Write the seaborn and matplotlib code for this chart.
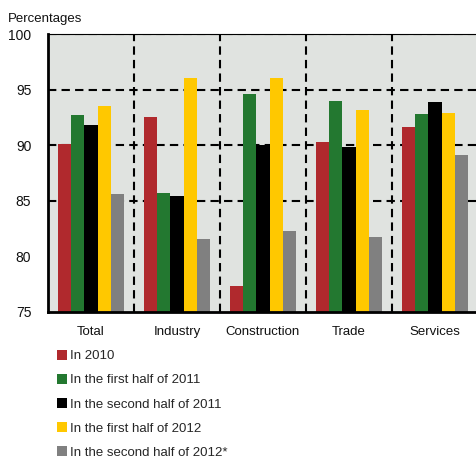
import matplotlib
matplotlib.use("Agg")
import matplotlib.pyplot as plt
from matplotlib.patches import Patch
import seaborn as sns
import pandas as pd

categories = ["Total", "Industry", "Construction", "Trade", "Services"]
series_names = [
    "In 2010",
    "In the first half of 2011",
    "In the second half of 2011",
    "In the first half of 2012",
    "In the second half of 2012*",
]
in_2010 = [90.1, 92.5, 77.3, 90.3, 91.6]
h1_2011 = [92.7, 85.7, 94.6, 94.0, 92.8]
h2_2011 = [91.8, 85.4, 90.0, 89.8, 93.9]
h1_2012 = [93.5, 96.0, 96.0, 93.2, 92.9]
h2_2012 = [85.6, 81.5, 82.3, 81.7, 89.1]
y_ticks = [75, 80, 85, 90, 95, 100]

colors = ["#B0292D", "#237830", "#000000", "#FFC800", "#808080"]

rows = []
for name, vals in zip(series_names, [in_2010, h1_2011, h2_2011, h1_2012, h2_2012]):
    for cat, v in zip(categories, vals):
        rows.append({"category": cat, "period": name, "value": v})
df = pd.DataFrame(rows)

sns.set_theme(style="white")
plt.rcParams["font.family"] = ["Liberation Sans", "DejaVu Sans"]
plt.rcParams["font.size"] = 9.5

fig = plt.figure(figsize=(4.77, 4.61), dpi=100)
ax = fig.add_axes([48 / 477, (461 - 311.7) / 461, 430 / 477, (311.7 - 34) / 461])
ax.set_facecolor("#E0E3E0")

sns.barplot(data=df, x="category", y="value", hue="period", hue_order=series_names,
            palette=colors, width=0.77, gap=0, ax=ax, legend=False,
            saturation=1, linewidth=0, errorbar=None)

ax.set_ylim(75, 100)
ax.set_xlim(-0.5, 4.5)
ax.set_yticks(y_ticks)
ax.set_yticklabels([str(t) for t in y_ticks], fontsize=10, color="#111111")
ax.set_xlabel("")
ax.set_ylabel("")
ax.tick_params(axis="y", length=0, pad=12)
ax.tick_params(axis="x", length=0, pad=10, labelsize=9.5, labelcolor="#111111")

# dashed grid: horizontal at tick levels, vertical between categories
for y in [85, 90, 95, 100]:
    ax.axhline(y, color="black", lw=1.5, ls=(0, (4, 2.5)), zorder=0.5)
for x in [0.5, 1.5, 2.5, 3.5]:
    ax.axvline(x, color="black", lw=1.5, ls=(0, (4, 2.5)), zorder=0.5)

for side in ["left", "bottom"]:
    ax.spines[side].set_color("black")
    ax.spines[side].set_linewidth(2)
ax.spines["top"].set_color("black")
ax.spines["top"].set_linewidth(0.8)
ax.spines["right"].set_visible(False)

fig.text(8 / 477, 1 - 19 / 461, "Percentages", fontsize=9.5, va="center", ha="left",
         color="#111111")

handles = [Patch(facecolor=c, edgecolor="none") for c in colors]
fig.legend(handles, series_names, loc="upper left",
           bbox_to_anchor=(57 / 477, 1 - 350 / 461), frameon=False,
           borderpad=0, borderaxespad=0, handlelength=0.75, handleheight=0.75,
           handletextpad=0.25, labelspacing=0.88, fontsize=9.5)

fig.savefig("out.png", dpi=100)
